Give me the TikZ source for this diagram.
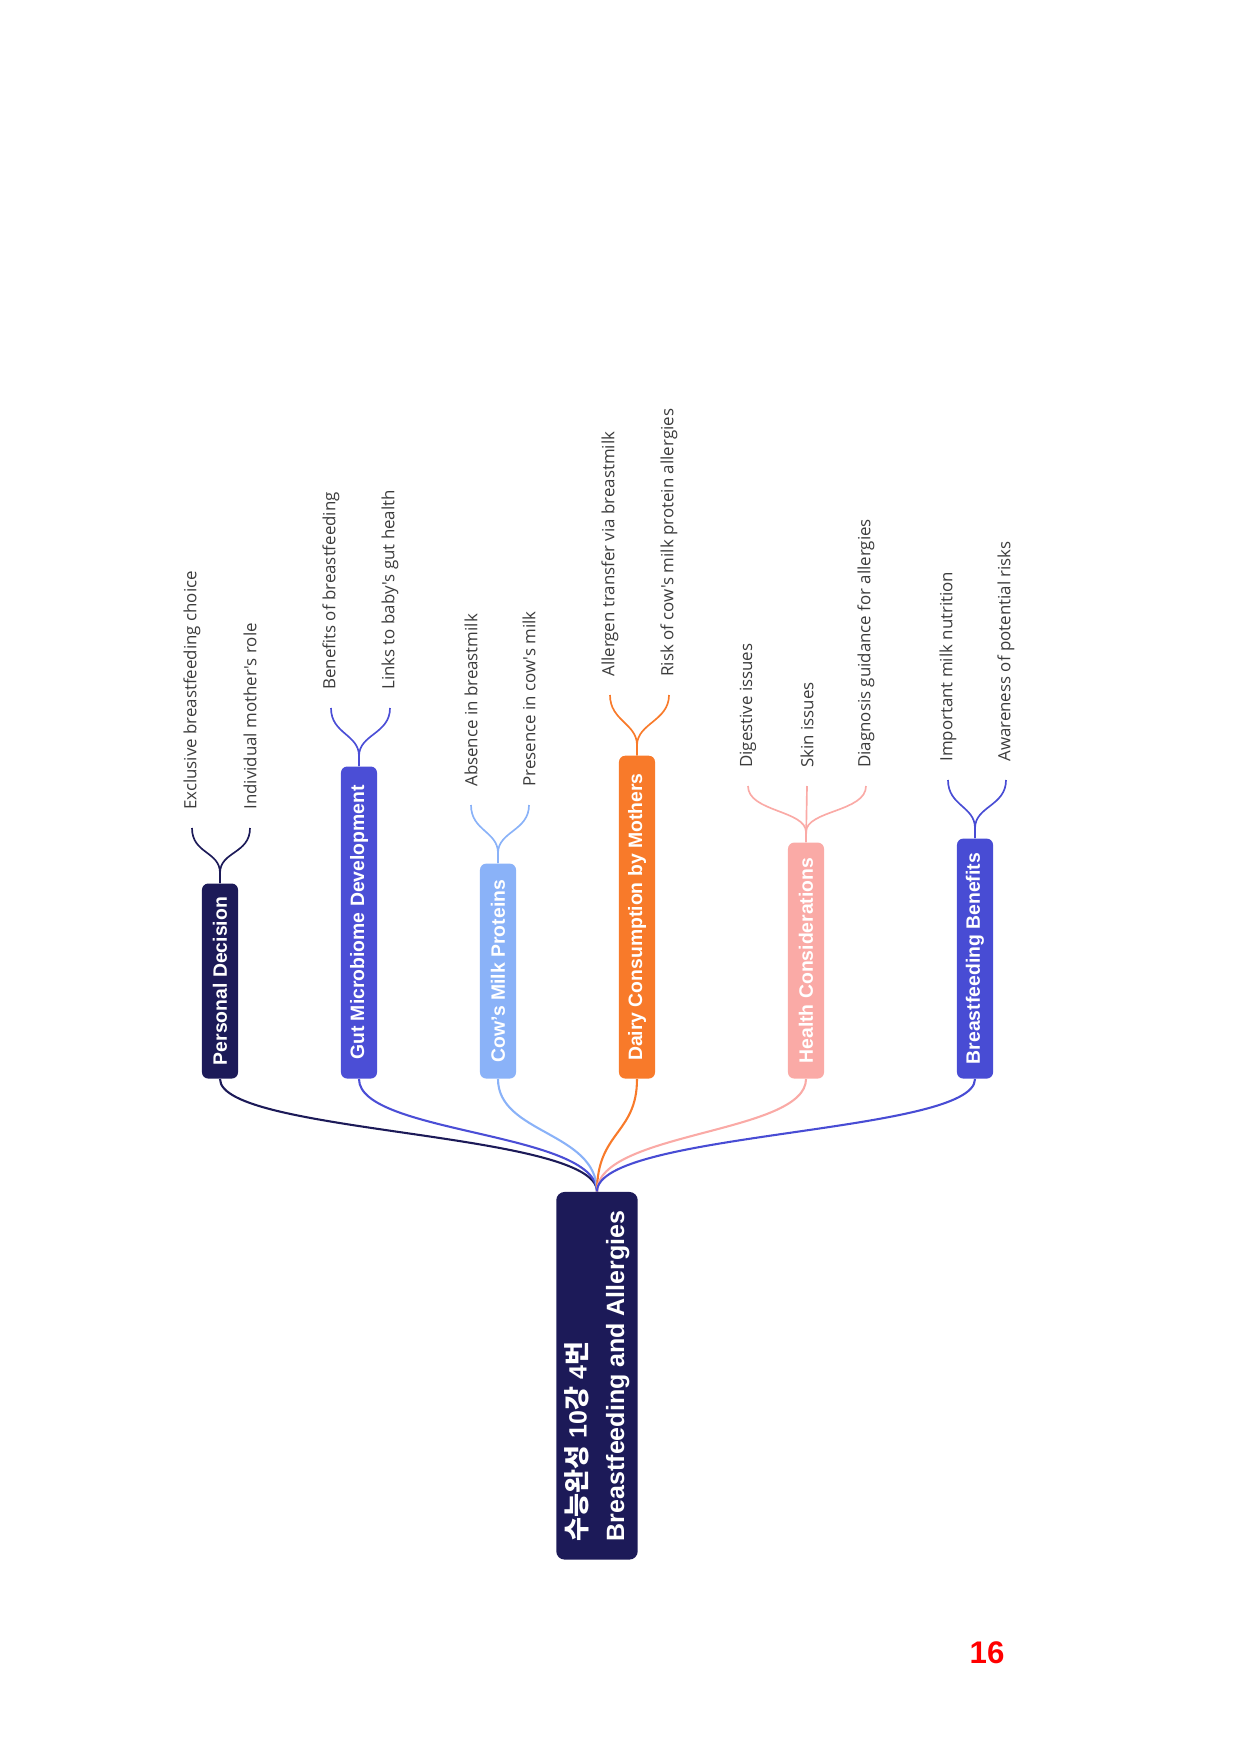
\documentclass[tikz,border=0pt]{standalone}
\usepackage{fontspec}
\setmainfont{Liberation Sans}
\newfontfamily\leaffont{Open Sans}
\newfontfamily\krfont{Noto Sans CJK KR}
\definecolor{navy}{RGB}{28,26,88}
\definecolor{gutblue}{RGB}{75,78,214}
\definecolor{cowblue}{RGB}{138,178,248}
\definecolor{dairyor}{RGB}{248,122,42}
\definecolor{healthpk}{RGB}{250,170,166}
\definecolor{bbblue}{RGB}{72,76,212}
\definecolor{leafgray}{RGB}{60,60,60}
\newcommand{\kr}[1]{{\krfont\bfseries\fontsize{12.5}{18}\selectfont #1}}
\begin{document}
\begin{tikzpicture}[x=0.48006pt,y=-0.48006pt,
  rootbox/.style={rotate=90, anchor=west, fill=navy, rounded corners=4pt, text=white,
    font=\bfseries\fontsize{12}{18}\selectfont, align=left, inner xsep=8pt, inner ysep=4pt,
    minimum height=39pt, minimum width=176.5pt},
  branchbox/.style={rotate=90, anchor=west, rounded corners=3pt, text=white,
    font=\bfseries\fontsize{9.3}{11}\selectfont, inner xsep=6.5pt, minimum height=17.3pt},
  leaf/.style={rotate=90, anchor=west, inner xsep=8.6pt, inner ysep=1pt,
    font=\leaffont\fontsize{8.1}{9.5}\selectfont, text=leafgray},
  rootlink/.style={draw=#1, line width=1pt},
  leaflink/.style={draw=#1, line width=0.8pt}
]
\useasboundingbox (0,0) rectangle (1240,1754);
% root
\node[rootbox] (root) at (597,1560) {\kr{수능완성} 10\kr{강} 4\kr{번}\\Breastfeeding and Allergies};
% branches
\node[branchbox, fill=navy, minimum width=93.6pt] (pd) at (220,1079) {Personal Decision};
\node[branchbox, fill=gutblue, minimum width=149.8pt] (gm) at (359,1079) {Gut Microbiome Development};
\node[branchbox, fill=cowblue, minimum width=103.2pt] (cm) at (498,1079) {Cow's Milk Proteins};
\node[branchbox, fill=dairyor, minimum width=155pt] (dc) at (637,1079) {Dairy Consumption by Mothers};
\node[branchbox, fill=healthpk, minimum width=113.3pt] (hc) at (806,1079) {Health Considerations};
\node[branchbox, fill=bbblue, minimum width=115.2pt] (bb) at (975,1079) {Breastfeeding Benefits};
% root links
\foreach \b/\c in {pd/navy, gm/gutblue, cm/cowblue, dc/dairyor, hc/healthpk, bb/bbblue}{
  \draw[rootlink=\c] (root.east) .. controls +(0,-60) and +(0,55) .. (\b.west);
}
% leaves
\node[leaf] (pd1) at (192,828) {Exclusive breastfeeding choice};
\node[leaf] (pd2) at (250,828) {Individual mother's role};
\node[leaf] (gm1) at (331,708) {Benefits of breastfeeding};
\node[leaf] (gm2) at (390,708) {Links to baby's gut health};
\node[leaf] (cm1) at (471,805) {Absence in breastmilk};
\node[leaf] (cm2) at (529,805) {Presence in cow's milk};
\node[leaf] (dc1) at (610,695) {Allergen transfer via breastmilk};
\node[leaf] (dc2) at (669,695) {Risk of cow's milk protein allergies};
\node[leaf] (hc1) at (748,786) {Digestive issues};
\node[leaf] (hc2) at (807,786) {Skin issues};
\node[leaf] (hc3) at (866,786) {Diagnosis guidance for allergies};
\node[leaf] (bb1) at (948,780) {Important milk nutrition};
\node[leaf] (bb2) at (1006,780) {Awareness of potential risks};
% leaf links
\foreach \b/\l/\c in {pd/pd1/navy, pd/pd2/navy, gm/gm1/gutblue, gm/gm2/gutblue,
  cm/cm1/cowblue, cm/cm2/cowblue, dc/dc1/dairyor, dc/dc2/dairyor,
  hc/hc1/healthpk, hc/hc3/healthpk, bb/bb1/bbblue, bb/bb2/bbblue}{
  \draw[leaflink=\c] (\b.east) -- ++(0,-10) .. controls +(0,-22) and +(0,26) .. (\l.west);
}
\draw[leaflink=healthpk] (hc.east) -- (hc2.west);
% page number
\node[text=red, font=\bfseries\fontsize{15}{18}\selectfont] (pg) at (987,1653) {16};
\end{tikzpicture}
\end{document}
